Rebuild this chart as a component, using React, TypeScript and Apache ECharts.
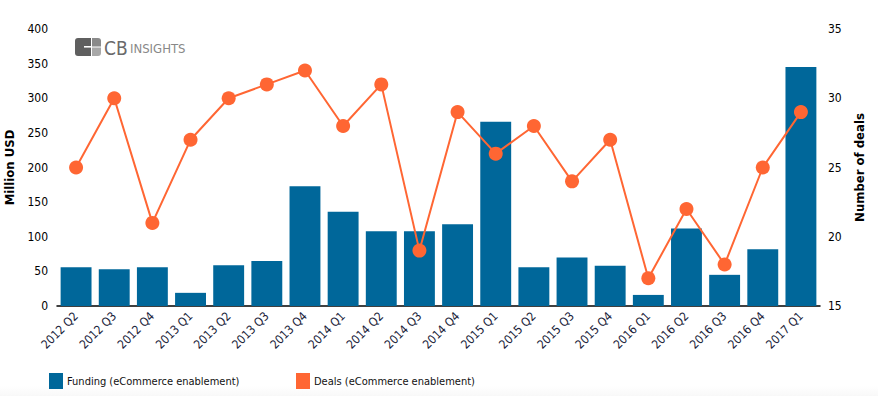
import React, { useEffect, useRef } from "react";
import * as echarts from "echarts";

const categories = [
  "2012 Q2", "2012 Q3", "2012 Q4",
  "2013 Q1", "2013 Q2", "2013 Q3", "2013 Q4",
  "2014 Q1", "2014 Q2", "2014 Q3", "2014 Q4",
  "2015 Q1", "2015 Q2", "2015 Q3", "2015 Q4",
  "2016 Q1", "2016 Q2", "2016 Q3", "2016 Q4",
  "2017 Q1",
];
const funding = [56, 53, 56, 19, 59, 65, 173, 136, 108, 108, 118, 266, 56, 70, 58, 16, 112, 45, 82, 345];
const deals = [25, 30, 21, 27, 30, 31, 32, 28, 31, 19, 29, 26, 28, 24, 27, 17, 22, 18, 25, 29];

const FONT = "'DejaVu Sans Condensed', 'DejaVu Sans', sans-serif";
const BAR = "#00679a";
const LINE = "#ff6633";

export default function App() {
  const ref = useRef<HTMLDivElement>(null);
  useEffect(() => {
    if (!ref.current) return;
    const chart = echarts.init(ref.current, undefined, { renderer: "svg" });
    chart.setOption({
      animation: false,
      backgroundColor: "#fff",
      textStyle: { fontFamily: FONT },
      grid: { left: 57, right: 58, top: 29, bottom: 90, containLabel: false, outerBoundsMode: "none" },
      legend: [
        {
          data: ["Funding (eCommerce enablement)"],
          left: 49,
          top: 373,
          padding: 0,
          icon: "rect",
          itemWidth: 14,
          itemHeight: 16,
          itemGap: 4,
          textStyle: { fontFamily: FONT, fontSize: 11, color: "#111", padding: [0, 0, 0, -1] },
        },
        {
          data: ["Deals (eCommerce enablement)"],
          left: 296,
          top: 373,
          padding: 0,
          icon: "rect",
          itemWidth: 14,
          itemHeight: 16,
          itemGap: 4,
          textStyle: { fontFamily: FONT, fontSize: 11, color: "#111", padding: [0, 0, 0, -1] },
        },
      ],
      xAxis: {
        type: "category",
        data: categories,
        axisLine: { lineStyle: { color: "#000", width: 1.5 } },
        axisTick: { alignWithLabel: true, length: 5, lineStyle: { color: "#000" } },
        axisLabel: { rotate: 45, fontSize: 12, color: "#1a1d3a", margin: 8, fontFamily: FONT, interval: 0 },
      },
      yAxis: [
        {
          type: "value",
          min: 0,
          max: 400,
          interval: 50,
          name: "Million USD",
          nameLocation: "middle",
          nameGap: 34,
          nameTextStyle: { fontWeight: "bold", fontSize: 13, color: "#000", fontFamily: FONT },
          axisLine: { show: false },
          axisTick: { show: false },
          splitLine: { show: false },
          axisLabel: { fontSize: 12, color: "#000", margin: 9, fontFamily: FONT },
        },
        {
          type: "value",
          min: 15,
          max: 35,
          interval: 5,
          name: "Number of deals",
          nameLocation: "middle",
          nameGap: 31,
          nameRotate: 90,
          nameTextStyle: { fontWeight: "bold", fontSize: 13, color: "#000", fontFamily: FONT },
          axisLine: { show: false },
          axisTick: { show: false },
          splitLine: { show: false },
          axisLabel: { fontSize: 12, color: "#000", margin: 8, fontFamily: FONT },
        },
      ],
      series: [
        {
          name: "Funding (eCommerce enablement)",
          type: "bar",
          data: funding,
          yAxisIndex: 0,
          barCategoryGap: "19%",
          itemStyle: { color: BAR },
        },
        {
          name: "Deals (eCommerce enablement)",
          type: "line",
          data: deals,
          yAxisIndex: 1,
          symbol: "circle",
          symbolSize: 14,
          itemStyle: { color: LINE },
          lineStyle: { color: LINE, width: 2 },
        },
      ],
      graphic: [
        {
          type: "rect",
          left: 0,
          top: 386,
          silent: true,
          z: -10,
          shape: { width: 878, height: 10 },
          style: {
            fill: new echarts.graphic.LinearGradient(0, 0, 0, 1, [
              { offset: 0, color: "#ffffff" },
              { offset: 1, color: "#f8f8f8" },
            ]),
          },
        },
        {
          type: "group",
          left: 75,
          top: 38,
          children: [
            { type: "rect", shape: { x: 0, y: 0, width: 16, height: 18, r: [3, 0, 0, 3] }, style: { fill: "#5f5f5f" } },
            { type: "rect", shape: { x: 17, y: 0, width: 9, height: 8.5, r: [0, 3, 0, 0] }, style: { fill: "#8a8a8a" } },
            { type: "rect", shape: { x: 17, y: 9.5, width: 9, height: 8.5, r: [0, 0, 3, 0] }, style: { fill: "#a8a8a8" } },
            { type: "rect", shape: { x: 9, y: 8, width: 8, height: 1.6 }, style: { fill: "#fff" } },
            { type: "text", x: 29, y: 0, style: { text: "CB", fontSize: 19, fill: "#6a6a6a", fontFamily: "'DejaVu Sans Condensed', sans-serif", fontWeight: 300 } },
            { type: "text", x: 55, y: 4, style: { text: "INSIGHTS", fontSize: 13, fill: "#888", fontFamily: "'DejaVu Sans Condensed', sans-serif" } },
          ],
        },
      ],
    });
    return () => chart.dispose();
  }, []);
  return <div ref={ref} style={{ position: "fixed", left: 0, top: 0, width: 878, height: 396 }} />;
}
